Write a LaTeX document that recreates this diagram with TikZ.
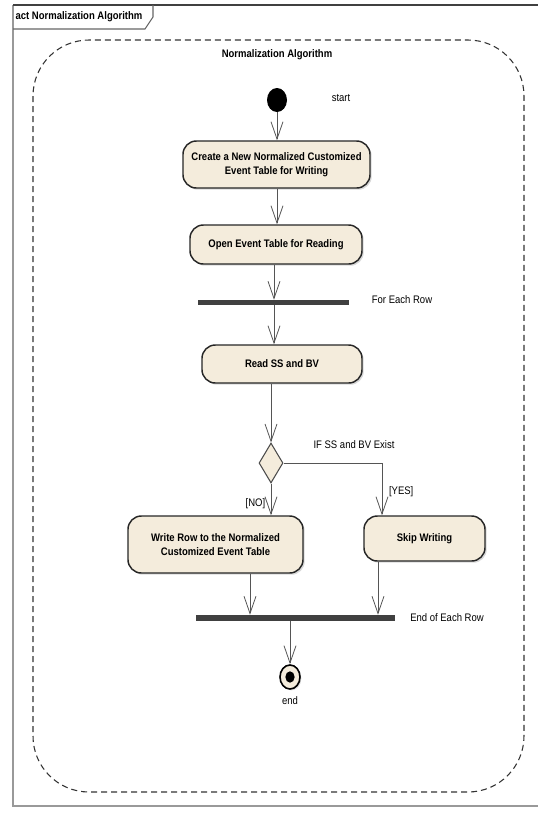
\documentclass[tikz,border=0pt]{standalone}
\usepackage{fontspec}
\setmainfont{Liberation Sans}[FakeStretch=0.87]
\usetikzlibrary{arrows.meta,shapes.geometric,shadows}
\definecolor{cream}{HTML}{F4ECDC}
\definecolor{lineg}{HTML}{555555}
\tikzset{
  lbl/.style={font=\fontsize{8.2}{10}\selectfont, inner sep=0},
  blbl/.style={font=\fontsize{8.2}{10}\selectfont\bfseries, inner sep=0},
  action/.style={draw=black!85, line width=1.1pt, rounded corners=10pt, fill=cream,
    drop shadow={shadow xshift=1.3pt, shadow yshift=-1.3pt, fill=black!30},
    font=\fontsize{8.2}{10.5}\selectfont\bfseries, align=center, inner sep=0},
  bar/.style={fill=black!75, draw=none, inner sep=0},
  arr/.style={draw=lineg, line width=0.6pt, -{Straight Barb[length=13pt,width=9pt]}},
}
\begin{document}
\begin{tikzpicture}[x=0.75pt,y=-0.75pt]
\useasboundingbox (0,0) rectangle (538,819);
% frame
\draw[black!40, line width=1pt] (13,5) -- (13,806) -- (538,806);
\draw[black!75, line width=1.2pt] (13,5) -- (538,5);
\draw[black!60, line width=0.8pt] (13,29) -- (145,29) -- (153,17) -- (153,5);
\node[blbl] (tab) at (79,17) {act Normalization Algorithm};
% dashed region
\draw[black!80, line width=0.8pt, dash pattern=on 4.5pt off 3pt, rounded corners=42pt] (33,40) rectangle (524,792);
\node[blbl] (title) at (277,55) {Normalization Algorithm};
% nodes
\node[ellipse, fill=black, minimum width=15pt, minimum height=18pt, inner sep=0] (start) at (277,100) {};
\node[lbl] (startl) at (341,98) {start};
\node[action, minimum width=140.25pt, minimum height=35.25pt] (a1) at (276.5,164.5) {Create a New Normalized Customized\\Event Table for Writing};
\node[action, minimum width=129pt, minimum height=29.25pt] (a2) at (276,244.5) {Open Event Table for Reading};
\node[bar, minimum width=113.25pt, minimum height=3.75pt] (b1) at (273.5,302.5) {};
\node[lbl] (b1l) at (402,300) {For Each Row};
\node[action, minimum width=120pt, minimum height=28.5pt] (a3) at (282,364) {Read SS and BV};
\node[diamond, draw=black!70, line width=0.8pt, fill=cream, minimum width=18pt, minimum height=30pt, inner sep=0] (d) at (271,463) {};
\node[lbl] (dl) at (354,445) {IF SS and BV Exist};
\node[action, minimum width=131.25pt, minimum height=42.75pt] (a4) at (215.5,544.5) {Write Row to the Normalized\\Customized Event Table};
\node[action, minimum width=90.75pt, minimum height=33.75pt] (a5) at (424.5,538.5) {Skip Writing};
\node[bar, minimum width=149.25pt, minimum height=4.5pt] (b2) at (295.5,618) {};
\node[lbl] (b2l) at (447,618) {End of Each Row};
\node[ellipse, draw=black, line width=1.2pt, fill=cream, minimum width=15pt, minimum height=18pt, inner sep=0,
  drop shadow={shadow xshift=1pt, shadow yshift=-1pt, fill=black!30}] (e) at (290,677) {};
\node[ellipse, fill=black, minimum width=7pt, minimum height=8.5pt, inner sep=0] (ei) at (e.center) {};
\node[lbl] (el) at (290,701) {end};
% x positions of connectors
\coordinate (x277) at (277,0);
\coordinate (x274) at (274,0);
\coordinate (x271) at (271,0);
\coordinate (x382) at (382,0);
\coordinate (x250) at (250,0);
\coordinate (x378) at (378,0);
\coordinate (x290) at (290,0);
% connectors
\draw[arr] (start.south -| x277) -- (a1.north -| x277);
\draw[arr] (a1.south -| x277) -- (a2.north -| x277);
\draw[arr] (a2.south -| x274) -- (b1.north -| x274);
\draw[arr] (b1.south -| x274) -- (a3.north -| x274);
\draw[arr] (a3.south -| x271) -- (d.north);
\draw[arr] (d.south) -- (a4.north -| x271) node[lbl, pos=0.62, left=4pt] (nol) {[NO]};
\draw[arr] (d.east) -- (d.east -| x382) -- (a5.north -| x382) node[lbl, pos=0.55, right=5pt] (yesl) {[YES]};
\draw[arr] (a4.south -| x250) -- (b2.north -| x250);
\draw[arr] (a5.south -| x378) -- (b2.north -| x378);
\draw[arr] (b2.south -| x290) -- (e.north);
\end{tikzpicture}
\end{document}
